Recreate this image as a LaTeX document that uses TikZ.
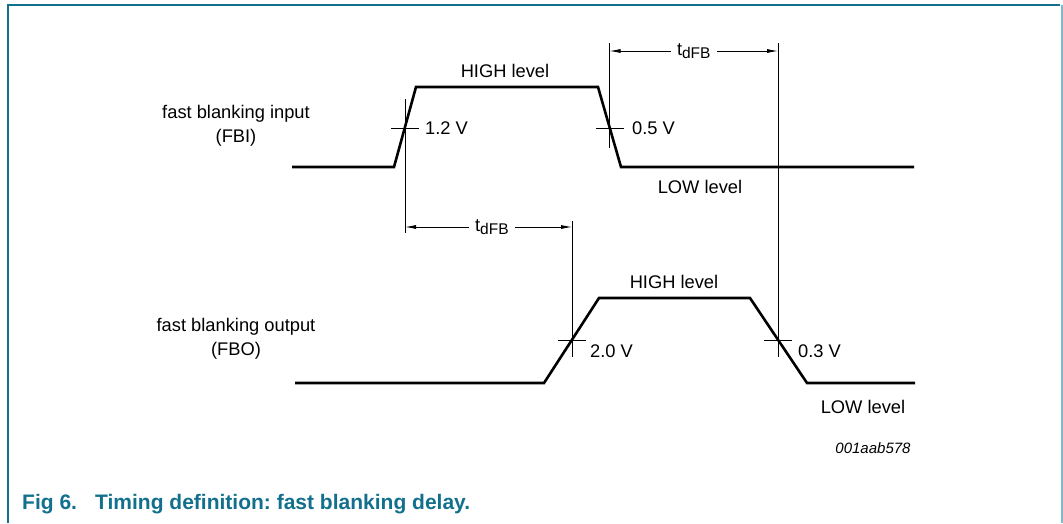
\documentclass[tikz,border=0pt]{standalone}
\usepackage{fontspec}
\setmainfont{Liberation Sans}
\usetikzlibrary{arrows.meta}
\frenchspacing

\definecolor{figteal}{RGB}{18,112,140}
\definecolor{figlight}{RGB}{128,186,202}

\newcommand{\tdfb}{t\raisebox{-0.32ex}{\fontsize{15.5}{15.5}\selectfont dFB}}

\begin{document}
\begin{tikzpicture}[x=1pt, y=-1pt,
	signal/.style={line width=2.6pt, line join=miter},
	guide/.style={line width=0.8pt},
	delay/.style={guide, {Latex[length=11pt,width=4pt]}-{Latex[length=11pt,width=4pt]}},
	lbl/.style={font=\fontsize{18.3}{24}\selectfont, inner sep=0pt},
	gap/.style={lbl, fill=white, inner xsep=6pt, inner ysep=2pt}]

	\useasboundingbox (0,0) rectangle (1063,523);

	% frame
	\draw[figteal, line width=2pt] (8,523) -- (8,4.5) -- (1060,4.5);
	\draw[figlight, line width=2pt] (1061.5,4.5) -- (1061.5,523);

	% input (FBI)
	\draw[signal] (292,167) -- (394,167) -- (416,87) -- (598,87) -- (621,167) -- (914,167);
	% output (FBO)
	\draw[signal] (295,383) -- (544,383) -- (599,298) -- (750,298) -- (807,383) -- (915,383);

	% reference lines
	\coordinate (inrise) at (405,128);
	\coordinate (infall) at (609.5,128);
	\coordinate (outrise) at (572,340);
	\coordinate (outfall) at (778,340);

	\foreach \c in {inrise, infall, outrise, outfall}
		\draw[guide] ([xshift=-14pt]\c) -- ([xshift=14pt]\c);

	\draw[guide] (405,99) -- (405,233);
	\draw[guide] (609.5,43) -- (609.5,148);
	\draw[guide] (778,43) -- (778,357);
	\draw[guide] (572,221) -- (572,357);

	% delays
	\coordinate (d1a) at (609.5,51);
	\coordinate (d1b) at (778,51);
	\coordinate (d2a) at (405,227);
	\coordinate (d2b) at (572,227);
	\draw[delay] (d1a) -- (d1b) node[gap, pos=0.5] (tin) {\tdfb};
	\draw[delay] (d2a) -- (d2b) node[gap, pos=0.52] (tout) {\tdfb};

	% labels
	\node[lbl, align=center] (fbi) at (236,126) {fast blanking input\\(FBI)};
	\node[lbl, align=center] (fbo) at (236,339) {fast blanking output\\(FBO)};

	\node[lbl, anchor=base] (inhigh) at (505,77) {HIGH level};
	\node[lbl, anchor=base] (inlow) at (700,193) {LOW level};
	\node[lbl, anchor=base west] (v12) at (425,134) {1.2 V};
	\node[lbl, anchor=base west] (v05) at (632,134) {0.5 V};

	\node[lbl, anchor=base] (outhigh) at (674,288) {HIGH level};
	\node[lbl, anchor=base] (outlow) at (863,413) {LOW level};
	\node[lbl, anchor=base west] (v20) at (590,357) {2.0 V};
	\node[lbl, anchor=base west] (v03) at (798,357) {0.3 V};

	\node[inner sep=0pt, anchor=base, font=\fontsize{15}{15}\selectfont\itshape] (code) at (873,453) {001aab578};

	% caption
	\node[inner sep=0pt, anchor=base west, text=figteal, font=\fontsize{21}{24}\selectfont\bfseries] (fig) at (22,509) {Fig 6.};
	\node[inner sep=0pt, anchor=base west, text=figteal, font=\fontsize{21}{24}\selectfont\bfseries] (title) at (95,509) {Timing definition: fast blanking delay.};

\end{tikzpicture}
\end{document}
